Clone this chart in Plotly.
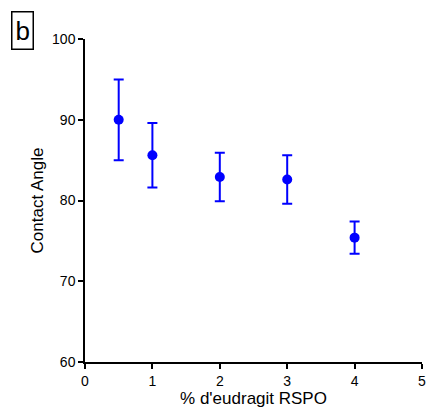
import plotly.graph_objects as go

x_vals = [0.5, 1, 2, 3, 4]
angle = [90.0, 85.6, 82.9, 82.6, 75.4]
err = [5.0, 4.0, 3.0, 3.0, 2.0]
x_ticks = [0, 1, 2, 3, 4, 5]
y_ticks = [60, 70, 80, 90, 100]

blue = "rgb(0,0,255)"
fig = go.Figure()
fig.add_trace(go.Scatter(
    x=x_vals, y=angle, mode="markers",
    marker=dict(color=blue, size=10),
    error_y=dict(type="data", array=err, visible=True, color=blue, thickness=2, width=5),
    showlegend=False, cliponaxis=False,
))

fam = "Liberation Sans, Arial, sans-serif"
fig.update_layout(
    width=432, height=410,
    margin=dict(l=85, r=6, t=39, b=47),
    plot_bgcolor="white", paper_bgcolor="white",
    font=dict(family=fam, size=14, color="black"),
    xaxis=dict(range=[0, 5], tickvals=x_ticks, showgrid=False, zeroline=False,
               showline=True, linecolor="black", linewidth=1.5,
               ticks="outside", ticklen=5, tickwidth=1.5, tickcolor="black",
               title=dict(text="% d'eudragit RSPO", standoff=4)),
    yaxis=dict(range=[60, 100], tickvals=y_ticks, showgrid=False, zeroline=False,
               showline=True, linecolor="black", linewidth=1.5,
               ticks="outside", ticklen=5, tickwidth=1.5, tickcolor="black",
               title=dict(text="Contact Angle", standoff=4)),
    annotations=[dict(text="b", showarrow=False,
                      font=dict(size=26, family=fam, color="black"),
                      bordercolor="black", borderwidth=1.5, borderpad=3)],
)
pw, ph = 432 - 85 - 6, 410 - 39 - 47
fig.layout.annotations[0].update(x=(21.5 - 85) / pw, y=1 + (39 - 30) / ph,
                                 xref="paper", yref="paper", xanchor="center", yanchor="middle")
fig.write_html("out.html")
